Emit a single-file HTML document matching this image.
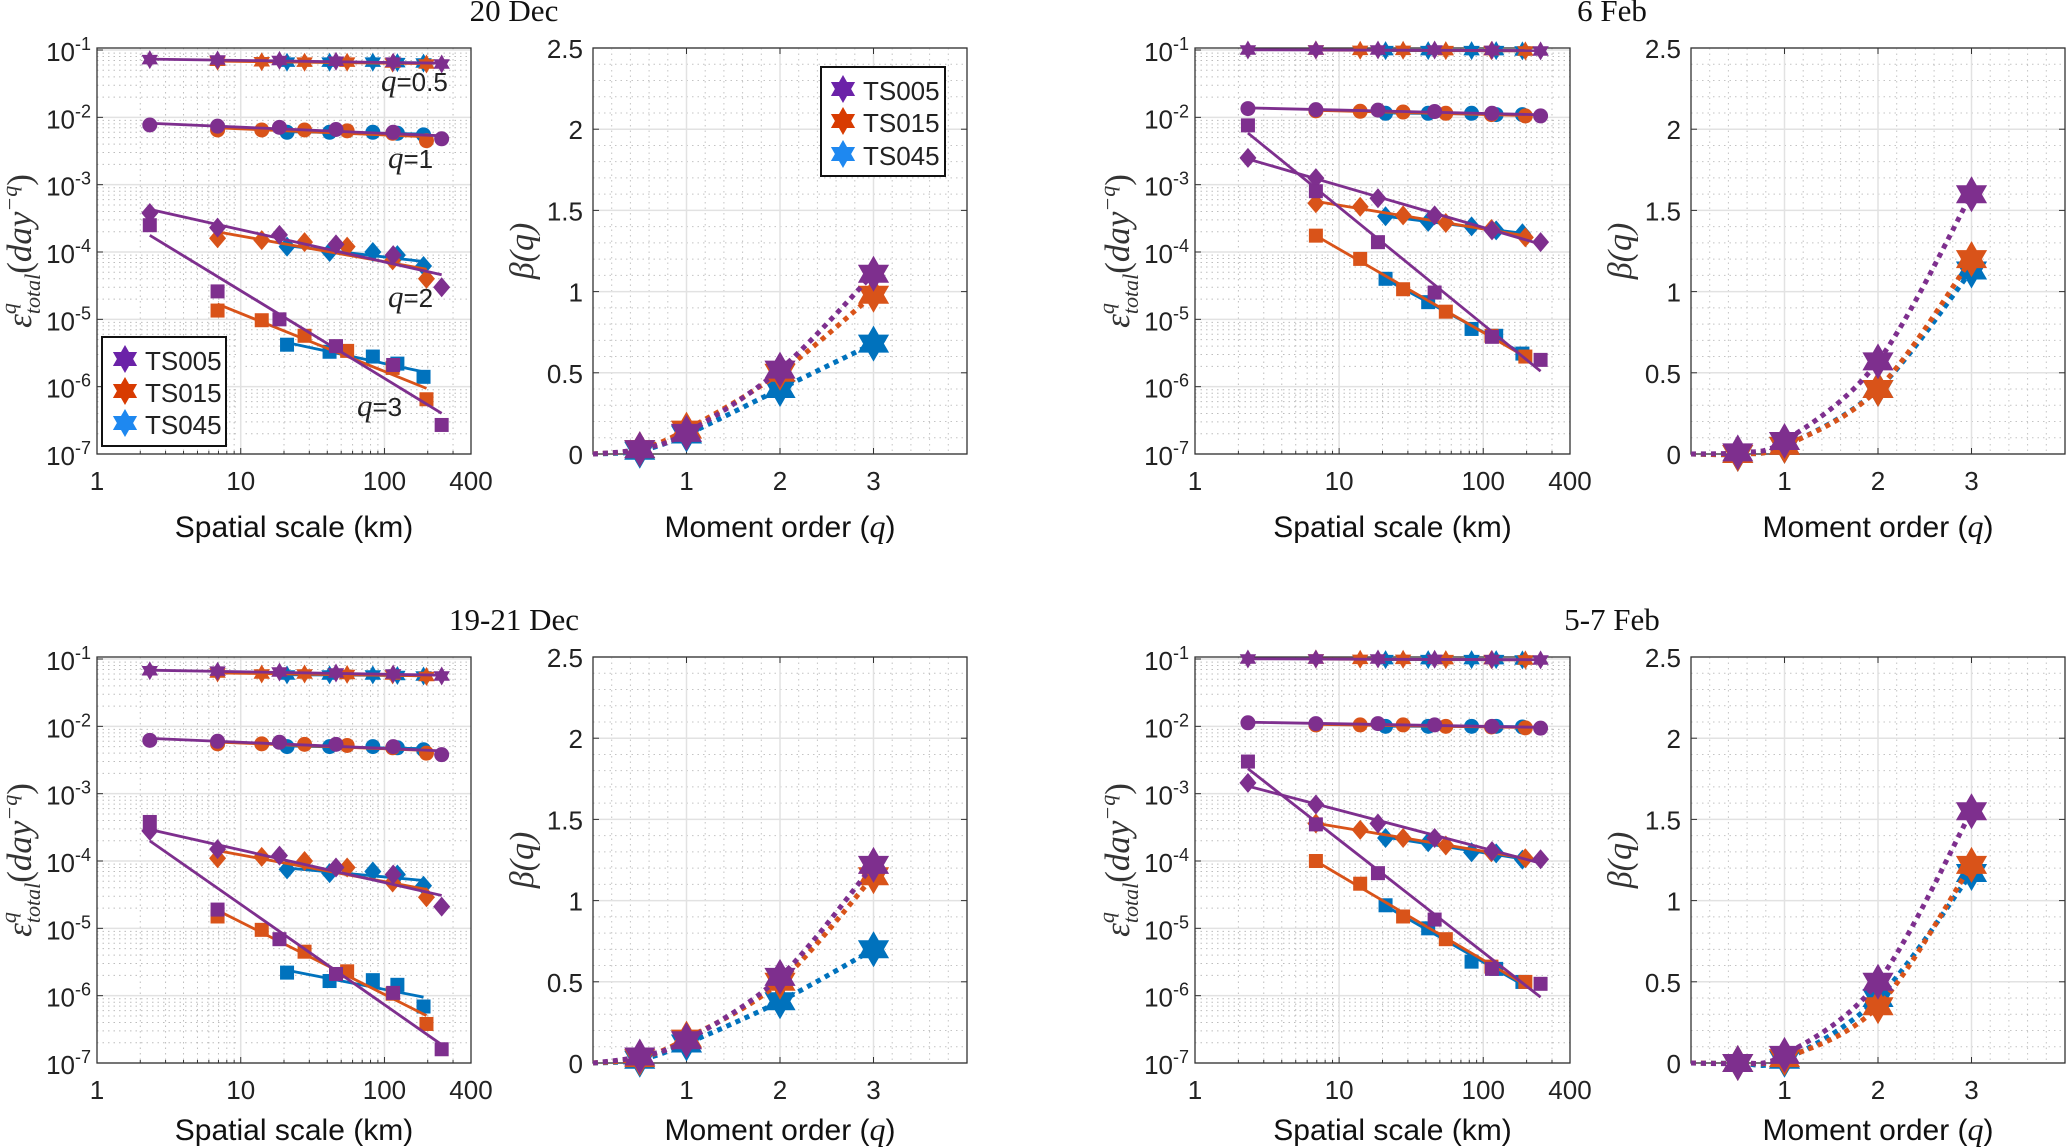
<!DOCTYPE html>
<html><head><meta charset="utf-8">
<style>
html,body{margin:0;padding:0;background:#fff;}
svg{display:block;}
.tk{font-family:"Liberation Sans",Arial,sans-serif;font-size:26px;fill:#222;}
.lab{font-family:"Liberation Sans",Arial,sans-serif;font-size:30px;fill:#111;}
.ser{font-family:"Liberation Serif","Times New Roman",serif;}
</style></head>
<body>
<svg id="fig" width="2067" height="1147" viewBox="0 0 2067 1147" xmlns="http://www.w3.org/2000/svg"></svg>
<script>
// ---- data ----
const seriesNames = ["TS005","TS015","TS045"];
const qOrders = [0.5, 1, 2, 3];
const xTS005 = [2.33, 6.9, 18.6, 46, 115, 250];
const xTS015 = [6.9, 14, 27.8, 55, 114, 196];
const xTS045 = [21, 41.5, 83, 123, 187];

// 20 Dec (per q: 0.5,1,2,3)
const dec20_ts005 = [[0.072,0.071,0.07,0.068,0.066,0.062],[0.0077,0.0074,0.0071,0.0066,0.006,0.0048],[3.8e-4,2.3e-4,1.8e-4,1.3e-4,9e-5,3e-5],[2.5e-4,2.6e-5,1e-5,4e-6,2.1e-6,2.7e-7]];
const dec20_ts015 = [[0.068,0.067,0.066,0.066,0.064,0.062],[0.0065,0.0065,0.0065,0.0063,0.0058,0.0045],[1.6e-4,1.5e-4,1.4e-4,1.2e-4,7.5e-5,4e-5],[1.35e-5,9.7e-6,5.7e-6,3.4e-6,1.9e-6,6.5e-7]];
const dec20_ts045 = [[0.066,0.066,0.066,0.065,0.064],[0.006,0.006,0.006,0.0058,0.0055],[1.2e-4,1.0e-4,1.0e-4,9e-5,6.2e-5],[4.2e-6,3.3e-6,2.8e-6,2.2e-6,1.4e-6]];
// 6 Feb
const feb6_ts005 = [[0.1,0.1,0.1,0.1,0.099,0.097],[0.0135,0.013,0.0128,0.0122,0.0115,0.0105],[2.5e-3,1.25e-3,6.3e-4,3.5e-4,2.1e-4,1.4e-4],[7.6e-3,8e-4,1.4e-4,2.5e-5,5.5e-6,2.5e-6]];
const feb6_ts015 = [[0.1,0.099,0.099,0.098,0.098,0.097],[0.0125,0.0123,0.012,0.0115,0.011,0.0105],[5.3e-4,4.7e-4,3.5e-4,2.7e-4,2.2e-4,1.65e-4],[1.75e-4,7.9e-5,2.8e-5,1.3e-5,5.7e-6,2.8e-6]];
const feb6_ts045 = [[0.098,0.098,0.098,0.098,0.097],[0.0115,0.0115,0.0115,0.011,0.011],[3.4e-4,2.8e-4,2.4e-4,2.1e-4,1.9e-4],[4e-5,1.8e-5,7.2e-6,5.7e-6,3.1e-6]];
// 19-21 Dec
const dec1921_ts005 = [[0.067,0.066,0.064,0.062,0.06,0.056],[0.0062,0.006,0.0058,0.0054,0.005,0.0038],[2.8e-4,1.5e-4,1.2e-4,8e-5,6.3e-5,2.1e-5],[3.8e-4,1.9e-5,6.9e-6,2.1e-6,1.1e-6,1.6e-7]];
const dec1921_ts015 = [[0.062,0.06,0.06,0.059,0.058,0.055],[0.0055,0.0055,0.0054,0.0052,0.0048,0.004],[1.1e-4,1.15e-4,1e-4,8e-5,4.8e-5,2.9e-5],[1.5e-5,9.5e-6,4.5e-6,2.3e-6,1.07e-6,3.8e-7]];
const dec1921_ts045 = [[0.058,0.058,0.058,0.057,0.056],[0.005,0.005,0.005,0.0048,0.0045],[7.5e-5,6.6e-5,7e-5,6.3e-5,4.3e-5],[2.2e-6,1.65e-6,1.7e-6,1.45e-6,6.9e-7]];
// 5-7 Feb
const feb57_ts005 = [[0.1,0.1,0.1,0.099,0.098,0.097],[0.0113,0.011,0.011,0.0105,0.01,0.0094],[1.45e-3,6.9e-4,3.6e-4,2.2e-4,1.4e-4,1.06e-4],[3e-3,3.5e-4,6.6e-5,1.35e-5,2.5e-6,1.5e-6]];
const feb57_ts015 = [[0.1,0.099,0.099,0.098,0.098,0.097],[0.0105,0.0105,0.0105,0.01,0.0098,0.0095],[3.6e-4,2.9e-4,2.2e-4,1.7e-4,1.35e-4,1.1e-4],[1e-4,4.6e-5,1.5e-5,6.9e-6,2.7e-6,1.6e-6]];
const feb57_ts045 = [[0.098,0.098,0.098,0.098,0.097],[0.01,0.01,0.01,0.01,0.0098],[2.2e-4,1.9e-4,1.35e-4,1.3e-4,1.05e-4],[2.2e-5,1e-5,3.2e-6,2.5e-6,1.6e-6]];

// beta(q) at q = 0.5,1,2,3
const beta_dec20 = [[0.03,0.13,0.52,1.11],[0.03,0.15,0.5,0.98],[0.02,0.12,0.4,0.68]];
const beta_feb6 = [[0.01,0.08,0.57,1.6],[0.0,0.05,0.4,1.2],[0.0,0.05,0.4,1.13]];
const beta_dec1921 = [[0.04,0.14,0.53,1.22],[0.03,0.15,0.5,1.15],[0.02,0.12,0.38,0.7]];
const beta_feb57 = [[0.0,0.05,0.5,1.55],[0.0,0.03,0.35,1.22],[0.0,0.02,0.4,1.17]];

const titles = ["20 Dec","6 Feb","19-21 Dec","5-7 Feb"];
const xTickVals = [1,10,100,400];
const yTickExps = [-1,-2,-3,-4,-5,-6,-7];
const betaYTicks = [0,0.5,1,1.5,2,2.5];
const betaXTicks = [1,2,3];

// ---- drawing ----
const NS="http://www.w3.org/2000/svg";
const svg=document.getElementById('fig');
const COLORS=["#7E2F8E","#D95319","#0072BD"];
const LEGCOL=["#6B22A8","#D83B01","#1E88F0"];
function el(tag,attrs,parent){const e=document.createElementNS(NS,tag);for(const k in attrs)e.setAttribute(k,attrs[k]);(parent||svg).appendChild(e);return e;}
function starPts(cx,cy,r){let p=[];for(let i=0;i<12;i++){const a=-Math.PI/2+i*Math.PI/6;const rr=i%2?r/Math.sqrt(3):r;p.push((cx+rr*Math.cos(a)).toFixed(1)+","+(cy+rr*Math.sin(a)).toFixed(1));}return p.join(" ");}
function marker(kind,cx,cy,col,g){
  let m;
  if(kind===0){m=el('polygon',{points:starPts(cx,cy,9.5),fill:col},g);}
  else if(kind===1){m=el('circle',{cx:cx,cy:cy,r:7.5,fill:col},g);}
  else if(kind===2){m=el('polygon',{points:`${cx},${cy-10} ${cx+8.5},${cy} ${cx},${cy+10} ${cx-8.5},${cy}`,fill:col},g);}
  else {m=el('rect',{x:cx-7,y:cy-7,width:14,height:14,fill:col},g);}
  
  
  return m;
}

function logPanel(P,sets,title,idx){
  const g=el('g',{});
  
  
  const xlo=0,xhi=Math.log10(400),ylo=-7,yhi=-0.97;
  const X=v=>P.L+(Math.log10(v)-xlo)/(xhi-xlo)*(P.R-P.L);
  const Y=v=>P.B-(Math.log10(v)-ylo)/(yhi-ylo)*(P.B-P.T);
  for(let d=0;d<3;d++)for(let k=2;k<=9;k++){const v=k*Math.pow(10,d);if(v>=400)continue;const x=X(v);el('line',{x1:x,x2:x,y1:P.T,y2:P.B,stroke:'#bdbdbd','stroke-width':1,'stroke-dasharray':'1.5 4'},g);}
  for(let e=-7;e<-1;e++)for(let k=2;k<=9;k++){const y=Y(k*Math.pow(10,e));el('line',{x1:P.L,x2:P.R,y1:y,y2:y,stroke:'#bdbdbd','stroke-width':1,'stroke-dasharray':'1.5 4'},g);}
  [10,100].forEach(v=>{const x=X(v);el('line',{x1:x,x2:x,y1:P.T,y2:P.B,stroke:'#e2e2e2','stroke-width':1.5},g);});
  yTickExps.forEach(e=>{const y=Y(Math.pow(10,e));el('line',{x1:P.L,x2:P.R,y1:y,y2:y,stroke:'#e2e2e2','stroke-width':1.5},g);});
  el('rect',{x:P.L,y:P.T,width:P.R-P.L,height:P.B-P.T,fill:'none',stroke:'#333','stroke-width':1.3},g);
  xTickVals.forEach(v=>{const x=X(v);el('line',{x1:x,x2:x,y1:P.B,y2:P.B-6,stroke:'#333'},g);
    const t=el('text',{x:x,y:P.B+36,'text-anchor':'middle',class:'tk'},g);t.textContent=v;
    
    });
  for(let d=0;d<3;d++)for(let k=2;k<=9;k++){const v=k*Math.pow(10,d);if(v>=400)continue;const x=X(v);el('line',{x1:x,x2:x,y1:P.B,y2:P.B-3,stroke:'#333'},g);}
  yTickExps.forEach(e=>{const y=Y(Math.pow(10,e));el('line',{x1:P.L,x2:P.L+6,y1:y,y2:y,stroke:'#333'},g);
    const t=el('text',{x:P.L-6,y:y+11,'text-anchor':'end',class:'tk'},g);
    
    
    const a=el('tspan',{},t);a.textContent='10';const b=el('tspan',{dy:-11,'font-size':18},t);b.textContent=String(e);});
  const xsArr=[xTS005,xTS015,xTS045];
  for(let s=2;s>=0;s--){
    for(let qi=0;qi<4;qi++){
      const xs=xsArr[s],ys=sets[s][qi];
      const lx=xs.map(Math.log10),ly=ys.map(Math.log10);const n=xs.length;
      const mx=lx.reduce((a,b)=>a+b)/n,my=ly.reduce((a,b)=>a+b)/n;
      let sxy=0,sxx=0;for(let i=0;i<n;i++){sxy+=(lx[i]-mx)*(ly[i]-my);sxx+=(lx[i]-mx)**2;}
      const sl=sxy/sxx;const f=v=>Math.pow(10,my+sl*(Math.log10(v)-mx));
      const ln=el('line',{x1:X(xs[0]),y1:Y(f(xs[0])),x2:X(xs[n-1]),y2:Y(f(xs[n-1])),stroke:COLORS[s],'stroke-width':2.8},g);
      
      
      xs.forEach((x,i)=>marker(qi,X(x),Y(ys[i]),COLORS[s],g));
    }
  }
  const xl=el('text',{x:(P.L+P.R)/2+10,y:P.B+P.lo,'text-anchor':'middle',class:'lab'},g);xl.textContent='Spatial scale (km)';
  
  
  const cy=(P.T+P.B)/2;
  const yl=el('text',{x:0,y:0,transform:`translate(${P.L-66},${cy}) rotate(-90)`,'text-anchor':'middle',class:'ser','font-size':35,'font-style':'italic',fill:'#333'},g);
  
  
  let t1=el('tspan',{},yl);t1.textContent='ε';
  let t2=el('tspan',{'font-size':22,dy:-15},yl);t2.textContent='q';
  let t3=el('tspan',{'font-size':22,dx:-11,dy:24},yl);t3.textContent='total';
  let t4=el('tspan',{dy:-9,'font-style':'normal'},yl);t4.textContent='(';
  let t5=el('tspan',{},yl);t5.textContent='day';
  let t6=el('tspan',{'font-size':22,dy:-14},yl);t6.textContent='−q';
  let t7=el('tspan',{dy:14,'font-style':'normal'},yl);t7.textContent=')';
  const tt=el('text',{x:P.L+417,y:P.T-27,'text-anchor':'middle',class:'ser','font-size':31,fill:'#111'},g);tt.textContent=title;
  
  
  return {X,Y,g};
}

function catmull(pts){let d=`M${pts[0][0]},${pts[0][1]}`;for(let i=0;i<pts.length-1;i++){const p0=pts[Math.max(i-1,0)],p1=pts[i],p2=pts[i+1],p3=pts[Math.min(i+2,pts.length-1)];
  const c1=[p1[0]+(p2[0]-p0[0])/6,p1[1]+(p2[1]-p0[1])/6],c2=[p2[0]-(p3[0]-p1[0])/6,p2[1]-(p3[1]-p1[1])/6];
  d+=` C${c1[0].toFixed(1)},${c1[1].toFixed(1)} ${c2[0].toFixed(1)},${c2[1].toFixed(1)} ${p2[0].toFixed(1)},${p2[1].toFixed(1)}`;}return d;}

function betaPanel(P,betas,idx){
  const g=el('g',{});
  
  
  const X=v=>P.L+v/4*(P.R-P.L);const Y=v=>P.B-v/2.5*(P.B-P.T);
  for(let v=0.2;v<4;v+=0.2){if(Math.abs(v-Math.round(v))<1e-6)continue;const x=X(v);el('line',{x1:x,x2:x,y1:P.T,y2:P.B,stroke:'#c4c4c4','stroke-dasharray':'1.5 4'},g);}
  for(let v=0.1;v<2.5;v+=0.1){if(Math.abs(v*2-Math.round(v*2))<1e-6)continue;const y=Y(v);el('line',{x1:P.L,x2:P.R,y1:y,y2:y,stroke:'#c4c4c4','stroke-dasharray':'1.5 4'},g);}
  betaXTicks.forEach(v=>{const x=X(v);el('line',{x1:x,x2:x,y1:P.T,y2:P.B,stroke:'#e2e2e2','stroke-width':1.5},g);});
  betaYTicks.forEach(v=>{const y=Y(v);el('line',{x1:P.L,x2:P.R,y1:y,y2:y,stroke:'#e2e2e2','stroke-width':1.5},g);});
  el('rect',{x:P.L,y:P.T,width:P.R-P.L,height:P.B-P.T,fill:'none',stroke:'#333','stroke-width':1.3},g);
  betaXTicks.forEach(v=>{const x=X(v);el('line',{x1:x,x2:x,y1:P.B,y2:P.B-6,stroke:'#333'},g);el('line',{x1:x,x2:x,y1:P.T,y2:P.T+6,stroke:'#333'},g);
    const t=el('text',{x:x,y:P.B+36,'text-anchor':'middle',class:'tk'},g);t.textContent=v;
    
    });
  betaYTicks.forEach(v=>{const y=Y(v);el('line',{x1:P.L,x2:P.L+6,y1:y,y2:y,stroke:'#333'},g);el('line',{x1:P.R,x2:P.R-6,y1:y,y2:y,stroke:'#333'},g);
    const t=el('text',{x:P.L-10,y:y+10,'text-anchor':'end',class:'tk'},g);t.textContent=v;
    
    });
  for(let s=2;s>=0;s--){
    const pts=[[X(0),Y(0)]].concat(qOrders.map((q,i)=>[X(q),Y(betas[s][i])]));
    const p=el('path',{d:catmull(pts),fill:'none',stroke:COLORS[s],'stroke-width':5,'stroke-dasharray':'5 5'},g);
    
    
    qOrders.forEach((q,i)=>{const m=el('polygon',{points:starPts(X(q),Y(betas[s][i]),18),fill:COLORS[s]},g);
      
      });
  }
  const xl=el('text',{x:(P.L+P.R)/2,y:P.B+P.lo,'text-anchor':'middle',class:'lab'},g);
  
  
  el('tspan',{},xl).textContent='Moment order (';
  const qi=el('tspan',{class:'ser','font-style':'italic','font-size':32},xl);qi.textContent='q';
  el('tspan',{},xl).textContent=')';
  const yl=el('text',{x:0,y:0,transform:`translate(${P.L-60},${(P.T+P.B)/2}) rotate(-90)`,'text-anchor':'middle',class:'ser','font-size':34,'font-style':'italic',fill:'#333'},g);
  yl.textContent='β(q)';
  
  
}

function legend(x,y,w,h,sx,tx,rows){
  const g=el('g',{});
  
  
  el('rect',{x:x,y:y,width:w,height:h,fill:'#fff',stroke:'#111','stroke-width':2},g);
  seriesNames.forEach((n,i)=>{
    const e=el('g',{},g);
    
    
    el('polygon',{points:starPts(sx,rows[i],14),fill:LEGCOL[i]},e);
    const t=el('text',{x:tx,y:rows[i]+11,class:'tk','font-size':30,fill:'#111'},e);t.textContent=n;
  });
}

const LP=[{L:97,R:471,T:48,B:454,lo:83},{L:1195,R:1570,T:48,B:454,lo:83},{L:97,R:471,T:657,B:1063,lo:77},{L:1195,R:1570,T:657,B:1063,lo:77}];
const BP=[{L:593,R:967,T:48,B:454,lo:83},{L:1691,R:2065,T:48,B:454,lo:83},{L:593,R:967,T:657,B:1063,lo:77},{L:1691,R:2065,T:657,B:1063,lo:77}];
const logSets=[[dec20_ts005,dec20_ts015,dec20_ts045],[feb6_ts005,feb6_ts015,feb6_ts045],[dec1921_ts005,dec1921_ts015,dec1921_ts045],[feb57_ts005,feb57_ts015,feb57_ts045]];
const betaSets=[beta_dec20,beta_feb6,beta_dec1921,beta_feb57];
for(let i=0;i<4;i++){logPanel(LP[i],logSets[i],titles[i],i);betaPanel(BP[i],betaSets[i],i);}

const qlab=[["0.5",381,91],["1",388,168],["2",388,307],["3",357,416]];
qlab.forEach(a=>{const t=el('text',{x:a[1],y:a[2],class:'tk','font-size':27,fill:'#111'});
  
  
  const s1=el('tspan',{class:'ser','font-style':'italic','font-size':31},t);s1.textContent='q';
  const s2=el('tspan',{},t);s2.textContent='='+a[0];});

legend(102,337,124,109,125,145,[359,391,423]);
legend(821,67,124,109,843,863,[89,121,154]);
</script>
</body></html>
